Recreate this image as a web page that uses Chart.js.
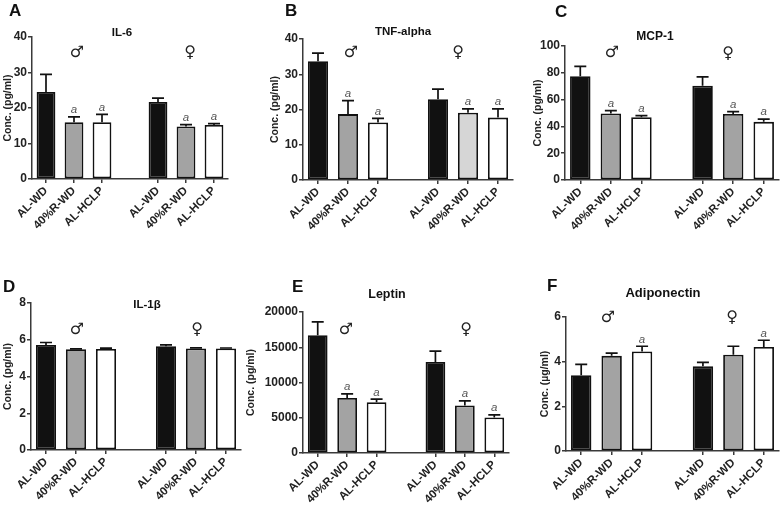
<!DOCTYPE html>
<html>
<head>
<meta charset="utf-8">
<script src="https://cdn.jsdelivr.net/npm/chart.js@4.4.1/dist/chart.umd.min.js"></script>
<style>
  body { margin: 0; background: #fff; width: 780px; height: 506px; position: relative; overflow: hidden; }
  canvas { position: absolute; left: 0; top: 0; }
</style>
</head>
<body>
<canvas id="cA" width="780" height="506"></canvas>
<canvas id="cB" width="780" height="506"></canvas>
<canvas id="cC" width="780" height="506"></canvas>
<canvas id="cD" width="780" height="506"></canvas>
<canvas id="cE" width="780" height="506"></canvas>
<canvas id="cF" width="780" height="506"></canvas>
<script>
// groups: male (3 bars), empty gap, female (3 bars)
const groups = ['AL-WD', '40%R-WD', 'AL-HCLP', '', 'AL-WD', '40%R-WD', 'AL-HCLP'];

// mean values and SEM
const il6Mean = [24.5, 16.0, 16.0, null, 21.7, 14.8, 15.2];
const il6Err  = [5.0, 1.5, 2.2, null, 1.1, 0.5, 0.4];
const tnfMean = [33.7, 18.7, 16.3, null, 22.9, 19.1, 17.7];
const tnfErr  = [2.3, 3.8, 1.2, null, 2.9, 1.1, 2.5];
const mcpMean = [77.5, 49.7, 46.8, null, 70.3, 49.2, 43.4];
const mcpErr  = [7.3, 2.0, 1.2, null, 6.7, 1.8, 2.1];
const il1bMean = [5.72, 5.48, 5.50, null, 5.65, 5.52, 5.52];
const il1bErr  = [0.13, 0.02, 0.04, null, 0.07, 0.04, 0.03];
const leptinMean = [16700, 7800, 7200, null, 12900, 6750, 5050];
const leptinErr  = [1900, 600, 450, null, 1550, 650, 350];
const adipoMean = [3.39, 4.26, 4.46, null, 3.79, 4.31, 4.66];
const adipoErr  = [0.49, 0.12, 0.23, null, 0.18, 0.38, 0.30];

// "a" = significant vs AL-WD
const sigIl6    = [0, 1, 1, 0, 0, 1, 1];
const sigTnf    = [0, 1, 1, 0, 0, 1, 1];
const sigMcp    = [0, 1, 1, 0, 0, 1, 1];
const sigIl1b   = [0, 0, 0, 0, 0, 0, 0];
const sigLeptin = [0, 1, 1, 0, 0, 1, 1];
const sigAdipo  = [0, 0, 1, 0, 0, 0, 1];

const FONT = "'Liberation Sans', Arial, sans-serif";
const AXIS = '#3a3a3a';
const BLACK = '#111', GRAY = '#a3a3a3', WHITE = '#ffffff', LIGHT = '#d6d6d6';

Chart.defaults.font.family = FONT;
Chart.defaults.color = '#222';

function makePanel(p) {
  const W = 780, H = 506;
  const padLeft = p.yTitleX - 6;
  const xHeight = Math.min(70, H - p.area.y1);
  const fills = p.fills || [BLACK, GRAY, WHITE, WHITE, BLACK, GRAY, WHITE];

  const decor = {
    id: 'decor' + p.letter,
    afterDatasetsDraw(chart) {
      const ctx = chart.ctx;
      const y = chart.scales.y;
      const meta = chart.getDatasetMeta(0);
      ctx.save();
      // error bars (upper only)
      ctx.strokeStyle = BLACK;
      ctx.lineWidth = 1.7;
      p.mean.forEach((m, i) => {
        if (m == null) return;
        const bar = meta.data[i];
        const top = y.getPixelForValue(m + p.err[i]);
        ctx.beginPath();
        ctx.moveTo(bar.x, bar.y);
        ctx.lineTo(bar.x, top);
        ctx.moveTo(bar.x - 6, top);
        ctx.lineTo(bar.x + 6, top);
        ctx.stroke();
        if (p.sig[i]) {
          ctx.fillStyle = '#555';
          ctx.font = 'italic 11.5px ' + FONT;
          ctx.textAlign = 'center';
          ctx.textBaseline = 'bottom';
          ctx.fillText('a', bar.x, top - 1);
        }
      });
      // panel letter
      ctx.fillStyle = '#111';
      ctx.textAlign = 'left';
      ctx.textBaseline = 'middle';
      ctx.font = 'bold 17px ' + FONT;
      ctx.fillText(p.letter, p.letterPos[0], p.letterPos[1]);
      // title
      ctx.textAlign = 'center';
      ctx.font = 'bold ' + p.titleSize + 'px ' + FONT;
      ctx.fillText(p.title, p.titlePos[0], p.titlePos[1]);
      // sex symbols
      ctx.font = '16px "DejaVu Sans", sans-serif';
      ctx.fillStyle = '#222';
      ctx.fillText('♂', p.malePos[0], p.malePos[1]);
      ctx.fillText('♀', p.femalePos[0], p.femalePos[1]);
      ctx.restore();
    }
  };

  return new Chart(document.getElementById(p.id), {
    type: 'bar',
    data: {
      labels: groups,
      datasets: [{
        data: p.mean,
        backgroundColor: fills,
        borderColor: BLACK,
        borderWidth: 1.8,
        borderSkipped: false,
        barPercentage: 0.67,
        categoryPercentage: 1
      }]
    },
    options: {
      responsive: false,
      animation: false,
      events: [],
      layout: {
        padding: { left: padLeft, top: p.area.y0, right: W - p.area.x1, bottom: H - p.area.y1 - xHeight }
      },
      plugins: { legend: { display: false }, tooltip: { enabled: false } },
      scales: {
        x: {
          afterFit: s => { s.height = xHeight; },
          border: { color: AXIS, width: 1.5 },
          grid: {
            offset: false,
            drawOnChartArea: false,
            tickLength: 4,
            lineWidth: 1.5,
            color: c => (c.index === 3 ? 'rgba(0,0,0,0)' : AXIS)
          },
          ticks: {
            autoSkip: false,
            minRotation: 45,
            maxRotation: 45,
            padding: 1,
            color: '#222',
            font: { size: 11.5, weight: 'bold' }
          }
        },
        y: {
          min: 0,
          max: p.max,
          afterFit: s => { s.width = p.area.x0 - padLeft; },
          border: { color: AXIS, width: 1.5 },
          grid: { drawOnChartArea: false, tickLength: 4, lineWidth: 1.5, color: AXIS },
          ticks: {
            stepSize: p.step,
            padding: 1,
            color: '#222',
            font: { size: 12, weight: 'bold' },
            callback: v => String(v)
          },
          title: {
            display: true,
            text: p.yTitle,
            padding: 0,
            color: '#222',
            font: { size: 10.5, weight: 'bold' }
          }
        }
      }
    },
    plugins: [decor]
  });
}

makePanel({
  id: 'cA', letter: 'A', title: 'IL-6', titleSize: 11.5,
  mean: il6Mean, err: il6Err, sig: sigIl6, max: 40, step: 10,
  yTitle: 'Conc. (pg/ml)', yTitleX: 8,
  area: { x0: 32, x1: 228, y0: 37, y1: 179 },
  letterPos: [9, 11], titlePos: [122, 33], malePos: [77, 53], femalePos: [190, 53]
});

makePanel({
  id: 'cB', letter: 'B', title: 'TNF-alpha', titleSize: 11.5,
  mean: tnfMean, err: tnfErr, sig: sigTnf, max: 40, step: 10,
  fills: [BLACK, GRAY, WHITE, WHITE, BLACK, LIGHT, WHITE],
  yTitle: 'Conc. (pg/ml)', yTitleX: 275,
  area: { x0: 303, x1: 513, y0: 39, y1: 180 },
  letterPos: [285, 11], titlePos: [403, 32], malePos: [351, 53], femalePos: [458, 53]
});

makePanel({
  id: 'cC', letter: 'C', title: 'MCP-1', titleSize: 12,
  mean: mcpMean, err: mcpErr, sig: sigMcp, max: 100, step: 20,
  yTitle: 'Conc. (pg/ml)', yTitleX: 538,
  area: { x0: 565, x1: 779, y0: 46, y1: 180 },
  letterPos: [555, 12], titlePos: [655, 37], malePos: [612, 53], femalePos: [728, 54]
});

makePanel({
  id: 'cD', letter: 'D', title: 'IL-1β', titleSize: 11.5,
  mean: il1bMean, err: il1bErr, sig: sigIl1b, max: 8, step: 2,
  yTitle: 'Conc. (pg/ml)', yTitleX: 8,
  area: { x0: 31, x1: 241, y0: 303, y1: 450 },
  letterPos: [3, 287], titlePos: [147, 305], malePos: [77, 330], femalePos: [197, 330]
});

makePanel({
  id: 'cE', letter: 'E', title: 'Leptin', titleSize: 12.5,
  mean: leptinMean, err: leptinErr, sig: sigLeptin, max: 20000, step: 5000,
  yTitle: 'Conc. (pg/ml)', yTitleX: 251,
  area: { x0: 303, x1: 509, y0: 312, y1: 453 },
  letterPos: [292, 287], titlePos: [387, 295], malePos: [346, 330], femalePos: [466, 330]
});

makePanel({
  id: 'cF', letter: 'F', title: 'Adiponectin', titleSize: 13,
  mean: adipoMean, err: adipoErr, sig: sigAdipo, max: 6, step: 2,
  yTitle: 'Conc. (µg/ml)', yTitleX: 545,
  area: { x0: 566, x1: 779, y0: 317, y1: 451 },
  letterPos: [547, 286], titlePos: [663, 293], malePos: [608, 318], femalePos: [732, 318]
});
</script>
</body>
</html>
